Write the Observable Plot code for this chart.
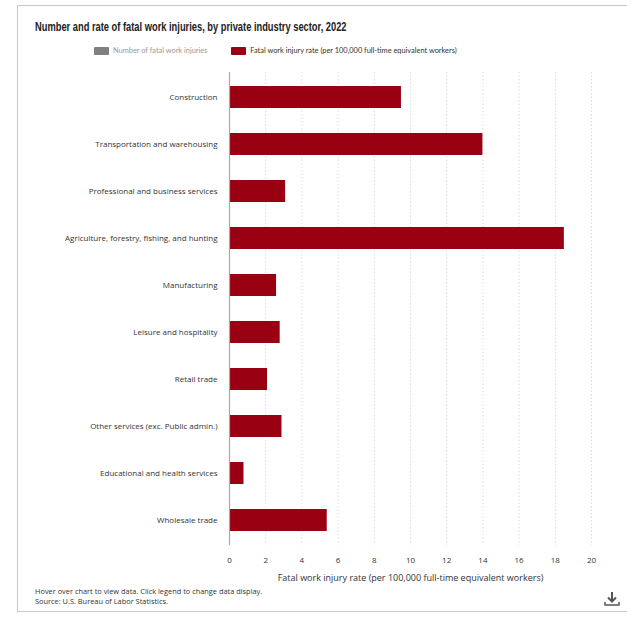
<!DOCTYPE html>
<html>
<head>
<meta charset="utf-8">
<script src="https://cdn.jsdelivr.net/npm/d3@7"></script>
<script src="https://cdn.jsdelivr.net/npm/@observablehq/plot@0.6"></script>
<style>
  html, body { margin: 0; padding: 0; background: #fff; }
  #wrap { position: relative; width: 627px; height: 618px; overflow: hidden; font-family: "Open Sans", sans-serif; }
  #frame { position: absolute; left: 17px; top: 5px; width: 640px; height: 607px; border: 1px solid #c8c8c8; box-sizing: border-box; }
  #title { position: absolute; left: 35px; top: 20px; font-family: "Liberation Sans", Arial, sans-serif; font-weight: bold; font-size: 12.5px; color: #222; white-space: nowrap; transform: scaleX(0.745); transform-origin: left top; }
  #legend { position: absolute; top: 46px; left: 94px; font-family: Lato, sans-serif; font-size: 7.4px; white-space: nowrap; display: flex; align-items: center; }
  .sw { display: inline-block; width: 15px; height: 8px; border-radius: 1px; margin-right: 4px; }
  .li { display: flex; align-items: center; margin-right: 24px; }
  #chart { position: absolute; left: 0; top: 0; }
  #foot { position: absolute; left: 35px; top: 586px; font-size: 7.4px; color: #333; line-height: 10px; white-space: nowrap; }
  #dl { position: absolute; left: 603px; top: 590px; }
</style>
</head>
<body>
<div id="wrap">
  <div id="frame"></div>
  <div id="chart"></div>
  <div id="title">Number and rate of fatal work injuries, by private industry sector, 2022</div>
  <div id="legend"></div>
  <div id="foot">Hover over chart to view data. Click legend to change data display.<br>Source: U.S. Bureau of Labor Statistics.</div>
  <svg id="dl" width="18" height="18" viewBox="0 0 18 18">
    <path d="M9 2 V11 M5 7.5 L9 11.5 L13 7.5" stroke="#555" stroke-width="2" fill="none"/>
    <path d="M2 12 V15 H16 V12" stroke="#555" stroke-width="1.5" fill="none"/>
  </svg>
</div>
<script>
const sectors = [
  "Construction",
  "Transportation and warehousing",
  "Professional and business services",
  "Agriculture, forestry, fishing, and hunting",
  "Manufacturing",
  "Leisure and hospitality",
  "Retail trade",
  "Other services (exc. Public admin.)",
  "Educational and health services",
  "Wholesale trade"
];
const rates = [9.5, 14.0, 3.1, 18.5, 2.6, 2.8, 2.1, 2.9, 0.8, 5.4];
const xTicks = [0, 2, 4, 6, 8, 10, 12, 14, 16, 18, 20];
const legendItems = ["Number of fatal work injuries", "Fatal work injury rate (per 100,000 full-time equivalent workers)"];
const legendColors = ["#808080", "#990011"];
const legendTextColors = ["#999", "#333"];
const xLabel = "Fatal work injury rate (per 100,000 full-time equivalent workers)";

const data = sectors.map((s, i) => ({sector: s, rate: rates[i]}));

const legend = document.getElementById("legend");
legendItems.forEach((t, i) => {
  const d = document.createElement("span");
  d.className = "li";
  d.innerHTML = `<span class="sw" style="background:${legendColors[i]}"></span><span style="color:${legendTextColors[i]}">${t}</span>`;
  legend.appendChild(d);
});

const chart = Plot.plot({
  width: 627,
  height: 586,
  marginLeft: 229,
  marginRight: 36,
  marginTop: 72,
  marginBottom: 41,
  style: { fontFamily: "Open Sans, sans-serif", fontSize: "8px", color: "#333", background: "transparent" },
  x: { domain: [0, 20], ticks: xTicks, label: null },
  y: { domain: sectors, paddingInner: 0.535, paddingOuter: 0.275, label: null },
  marks: [
    Plot.gridX(xTicks.filter(d => d > 0), { stroke: "#dcdcdc", strokeOpacity: 1, strokeDasharray: "1.5,2" }),
    Plot.barX(data, { x: "rate", y: "sector", fill: legendColors[1] }),
    Plot.ruleX([0], { stroke: "#aaa", strokeWidth: 1.2 }),
    Plot.ruleY([0], { frameAnchor: "bottom", stroke: "#bbb", strokeWidth: 1.2 }),
    Plot.axisY({ tickSize: 0, tickPadding: 12, fontSize: 8, fill: "#333" }),
    Plot.axisX({ ticks: xTicks, tickSize: 0, tickPadding: 12, fontSize: 8, fill: "#333", label: null }),
    Plot.text([xLabel], { frameAnchor: "bottom", dy: 35, fontSize: 9, fill: "#333" })
  ]
});
document.getElementById("chart").appendChild(chart);
</script>
</body>
</html>
